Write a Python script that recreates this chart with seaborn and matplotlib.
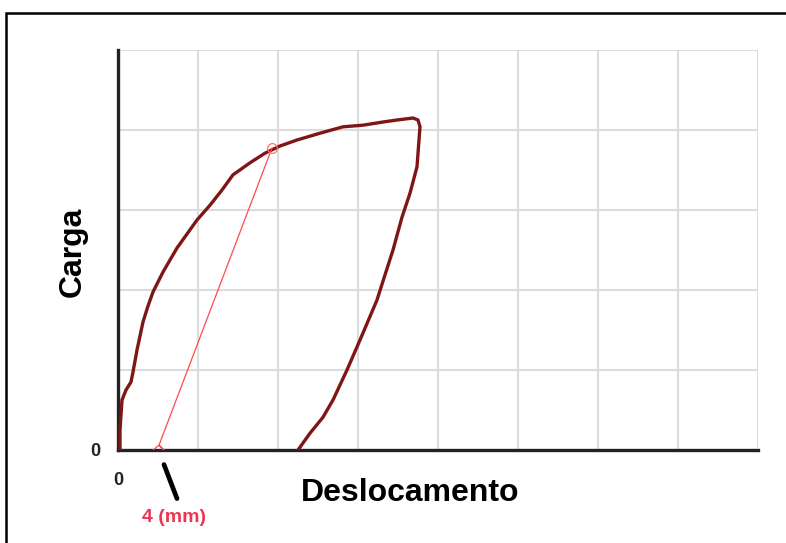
import matplotlib
matplotlib.use("Agg")
import matplotlib.pyplot as plt
import seaborn as sns
import pandas as pd
from matplotlib.patches import Rectangle

# Load–displacement curve (loading branch followed by unloading branch)
desloc_mm = [0.2, 0.2, 0.3, 0.4, 0.8, 1.3, 1.5, 1.9, 2.5, 3.0, 3.5, 4.5, 5.9, 6.9, 7.9,
             9.2, 10.4, 11.5, 12.3, 13.2, 14.7, 16.2, 17.9, 20.2, 22.5, 24.5, 26.5,
             27.9, 29.5, 30.0, 30.2, 30.1, 29.9, 29.2, 28.4, 27.5, 26.6, 25.9, 24.2,
             22.9, 21.5, 20.5, 19.2, 18.0]
carga = [0.0, 2.5, 4.4, 6.25, 7.5, 8.5, 9.75, 12.5, 16.0, 18.0, 19.75, 22.25, 25.25,
         27.0, 28.75, 30.6, 32.5, 34.4, 35.1, 35.9, 37.1, 38.0, 38.75, 39.6, 40.4,
         40.6, 41.0, 41.25, 41.5, 41.25, 40.4, 38.75, 35.4, 32.1, 29.1, 25.0, 21.5,
         18.75, 13.75, 10.0, 6.25, 4.1, 2.1, 0.0]

# Secant line from the offset point on the displacement axis
secante_x = [3.5, 4.1, 4.6, 4.1, 15.4]
secante_y = [0.0, 0.6, 0.0, 0.6, 37.75]

x_ticks = [0, 16, 32, 48, 64]
x_grid = [0, 8, 16, 24, 32, 40, 48, 56, 64]
y_ticks = [0, 10, 20, 30, 40, 50]
offset_label = "4 (mm)"
offset_x = 4.5

curva = pd.DataFrame({"Deslocamento": desloc_mm, "Carga": carga})
secante = pd.DataFrame({"Deslocamento": secante_x, "Carga": secante_y})

sns.set_style("white")
plt.rcParams["font.family"] = ["Liberation Sans", "DejaVu Sans"]

W, H = 786, 543
fig = plt.figure(figsize=(W / 100, H / 100), dpi=100)
ax = fig.add_axes([118 / W, 1 - 450 / H, 640 / W, 400 / H])

# grid
for gx in x_grid:
    ax.axvline(gx, color="#dcdcdc", lw=1.5, zorder=0)
for gy in y_ticks:
    ax.axhline(gy, color="#dcdcdc", lw=1.5, zorder=0)

sns.lineplot(data=curva, x="Deslocamento", y="Carga", sort=False, estimator=None,
             color="#7e1616", lw=2.4, ax=ax, zorder=3)
sns.lineplot(data=secante, x="Deslocamento", y="Carga", sort=False, estimator=None,
             color="#ff4a4a", lw=0.9, ax=ax, zorder=4)
ax.plot([secante_x[-1]], [secante_y[-1]], marker="o", ms=7, mfc="none",
        mec="#ff7070", mew=0.9, zorder=4)

ax.set_xlim(0, 64)
ax.set_ylim(0, 50)
ax.set_xticks(x_ticks)
ax.set_xticklabels(["0"] + [""] * (len(x_ticks) - 1))
ax.set_yticks(y_ticks)
ax.set_yticklabels(["0"] + [""] * (len(y_ticks) - 1))
ax.tick_params(axis="x", direction="out", length=6, width=2.2, color="#222222",
               pad=10, labelsize=13)
ax.tick_params(axis="y", direction="out", length=6, width=2.2, color="#222222",
               pad=7, labelsize=13)
for lab in ax.get_xticklabels() + ax.get_yticklabels():
    lab.set_fontweight("bold")
    lab.set_color("#222222")

for side in ["top", "right"]:
    ax.spines[side].set_visible(False)
for side in ["left", "bottom"]:
    ax.spines[side].set_color("#222222")
    ax.spines[side].set_linewidth(2.4)
ax.set_xlabel("")
ax.set_ylabel("")

fig.text(410 / W, 1 - 493 / H, "Deslocamento", ha="center", va="center",
         fontsize=23, fontweight="bold", color="black")
fig.text(73 / W, 1 - 252 / H, "Carga", ha="center", va="center", rotation=90,
         fontsize=23, fontweight="bold", color="black")

# pointer to the offset on the displacement axis
ax.annotate("", xy=(offset_x, -1.5), xytext=(6.0, -6.4),
            arrowprops=dict(arrowstyle="-", lw=3.4, color="black"),
            annotation_clip=False)
ax.text(5.6, -8.5, offset_label, ha="center", va="center", fontsize=14,
        fontweight="bold", color="#ee3350", clip_on=False)

# outer frame
fig.patches.append(Rectangle((6 / W, -0.2), 1.2, 1 - 13 / H + 0.2,
                             transform=fig.transFigure, fill=False,
                             edgecolor="black", lw=1.8))

fig.savefig("out.png", dpi=100)
